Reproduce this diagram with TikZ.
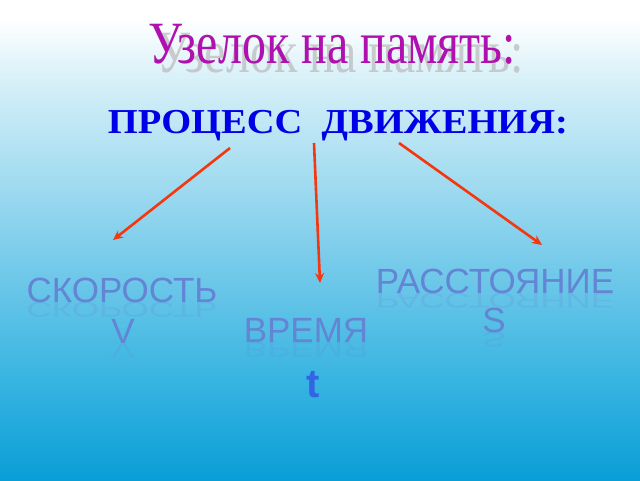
\documentclass[tikz,border=0pt]{standalone}
\usepackage{fontspec}
\setmainfont{Liberation Serif}
\newfontfamily\wordfont{Liberation Sans}
\usetikzlibrary{arrows.meta}
\definecolor{titlepink}{RGB}{176,16,176}
\definecolor{headblue}{RGB}{0,0,230}
\definecolor{wordblue}{RGB}{100,132,212}
\definecolor{tblue}{RGB}{50,100,228}
\definecolor{arrowred}{RGB}{245,55,15}
\definecolor{skyA}{RGB}{10,158,215}
\definecolor{skyB}{RGB}{55,180,225}
\definecolor{skyC}{RGB}{125,205,235}
\definecolor{skyD}{RGB}{215,240,248}
\pgfdeclareverticalshading{sky}{100bp}{color(0bp)=(skyA); color(25bp)=(skyA); color(35.4bp)=(skyB); color(49bp)=(skyC); color(66.7bp)=(skyD); color(73bp)=(white); color(100bp)=(white)}

\begin{document}
\begin{tikzpicture}[x=1pt,y=-1pt,
    title/.style={font=\fontsize{60}{60}\selectfont,text=titlepink,inner sep=0pt,anchor=base,xscale=.8},
    head/.style={font=\bfseries\fontsize{35}{35}\selectfont,text=headblue,inner sep=0pt,anchor=base,xscale=1.1},
    word/.style={font=\wordfont\fontsize{35}{35}\selectfont,text=wordblue,inner sep=0pt,anchor=base},
    mirror/.style={word,yscale=-.6,opacity=.18},
    pointer/.style={draw=arrowred,line width=2.6pt,-{Stealth[length=10pt,width=9pt]}}]
      \path[use as bounding box] (0,0) rectangle (640,480);
      \shade[shading=sky] (0,0) rectangle (640,480);
      \node[title,text=gray!55,opacity=.7] (shadow) at (340,72) {Узелок на память:};
      \node[title] (title) at (332,63) {Узелок на память:};
      \node[head] (proc) at (338,133) {ПРОЦЕСС\ \ ДВИЖЕНИЯ:};
      \foreach \w/\x/\y/\n in {СКОРОСТЬ/122/302/speed,V/123/343/vee,ВРЕМЯ/306/342/time,РАССТОЯНИЕ/495/293/dist,S/494/332/ess}
      {
      \node[mirror] at (\x,\y) {\w};
      \node[word] (\n) at (\x,\y) {\w};
      }
      \node[font=\wordfont\bfseries\fontsize{40}{40}\selectfont,text=tblue,inner sep=0pt,anchor=base] (tee) at (313,397) {t};
      \foreach \a/\b/\c/\d [count=\i] in {230/148/113/240,314/143/320/283,399/143/542/245}
      {
      \coordinate (from\i) at (\a,\b);
      \coordinate (to\i) at (\c,\d);
      \draw[pointer] (from\i) -- (to\i);
      }
\end{tikzpicture}
\end{document}
